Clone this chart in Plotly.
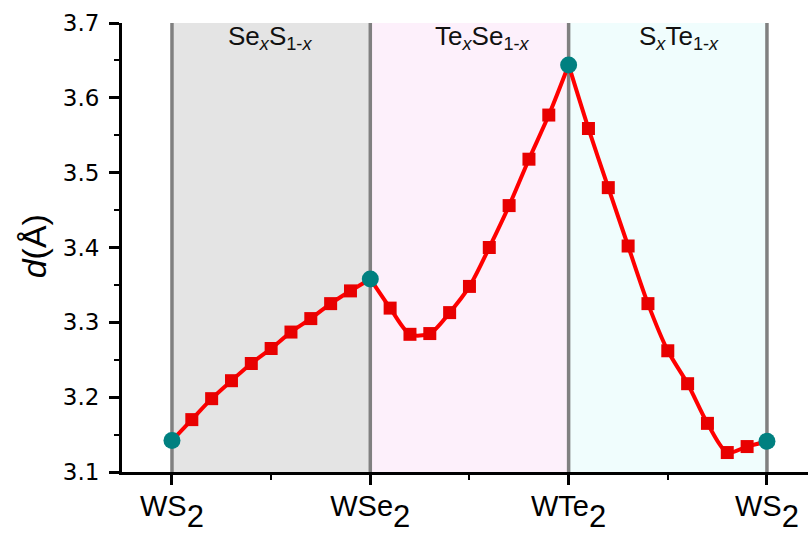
import plotly.graph_objects as go

# End-member compounds along the composition path
end_x = [0, 1, 2, 3]
end_d = [3.142, 3.358, 3.644, 3.141]
end_names = ["WS", "WSe", "WTe", "WS"]

# Alloy compositions inside each segment
frac = [0.1, 0.2, 0.3, 0.4, 0.5, 0.6, 0.7, 0.8, 0.9]
d_se_s = [3.170, 3.198, 3.222, 3.245, 3.265, 3.287, 3.305, 3.325, 3.342]
d_te_se = [3.319, 3.284, 3.285, 3.313, 3.348, 3.400, 3.456, 3.518, 3.577]
d_s_te = [3.559, 3.480, 3.402, 3.325, 3.262, 3.218, 3.165, 3.126, 3.134]
segments = [d_se_s, d_te_se, d_s_te]

region_names = [
    "Se<sub><i>x</i></sub>S<sub>1-<i>x</i></sub>",
    "Te<sub><i>x</i></sub>Se<sub>1-<i>x</i></sub>",
    "S<sub><i>x</i></sub>Te<sub>1-<i>x</i></sub>",
]
region_label_x = [0.494, 1.568, 2.557]
region_colors = ["#e4e4e4", "#fdf0fb", "#f0fdfd"]

FONT = "Liberation Sans, Arial, sans-serif"
RED = "#ff0000"
TEAL = "#008080"

# formula labels with a large, lowered subscript 2
end_labels = [
    n + '<span style="font-size:31px;baseline-shift:-11px">2</span>'
    for n in end_names
]

fig = go.Figure()

for i, seg in enumerate(segments):
    xs = [end_x[i]] + [end_x[i] + f for f in frac] + [end_x[i + 1]]
    ys = [end_d[i]] + seg + [end_d[i + 1]]
    fig.add_trace(go.Scatter(
        x=xs, y=ys, mode="lines",
        line=dict(color=RED, width=4, shape="spline", smoothing=0.8),
        hoverinfo="skip", showlegend=False,
    ))
    fig.add_trace(go.Scatter(
        x=[end_x[i] + f for f in frac], y=seg, mode="markers",
        marker=dict(symbol="square", size=13, color="#e80000"),
        showlegend=False,
    ))

fig.add_trace(go.Scatter(
    x=end_x, y=end_d, mode="markers",
    marker=dict(symbol="circle", size=17, color=TEAL),
    showlegend=False,
))

shapes = []
for i, c in enumerate(region_colors):
    shapes.append(dict(type="rect", xref="x", yref="paper",
                       x0=end_x[i], x1=end_x[i + 1], y0=0, y1=1,
                       fillcolor=c, line=dict(width=0), layer="below"))
for xv in end_x:
    shapes.append(dict(type="line", xref="x", yref="paper",
                       x0=xv, x1=xv, y0=0, y1=1,
                       line=dict(color="#808080", width=3.5), layer="below"))

annotations = []
for name, lx in zip(region_names, region_label_x):
    annotations.append(dict(text=name, x=lx, xref="x", y=1, yref="paper",
                            xanchor="center", yanchor="top", yshift=4,
                            showarrow=False,
                            font=dict(family=FONT, size=26, color="#111111")))
annotations.append(dict(text="<i>d</i>(Å)", x=-0.128, xref="paper", y=0.503,
                        yref="paper", textangle=-90, showarrow=False,
                        xanchor="center", yanchor="middle",
                        font=dict(family=FONT, size=34, color="black")))

fig.update_layout(
    width=808, height=533,
    margin=dict(l=122, r=0, t=23, b=61, autoexpand=False),
    paper_bgcolor="white", plot_bgcolor="white",
    shapes=shapes, annotations=annotations,
    font=dict(family=FONT, color="black"),
)

fig.update_xaxes(
    range=[-0.252, 3.207], automargin=False,
    tickmode="array", tickvals=end_x, ticktext=end_labels,
    tickfont=dict(family=FONT, size=29, color="black"),
    ticks="outside", ticklen=10, tickwidth=3, tickcolor="black",
    ticklabelstandoff=-4,
    minor=dict(tickmode="array", tickvals=[0.5, 1.5, 2.5], ticks="outside",
               ticklen=5, tickwidth=2, tickcolor="black"),
    showline=True, linewidth=3, linecolor="black",
    showgrid=False, zeroline=False,
)
fig.update_yaxes(
    range=[3.1, 3.7], dtick=0.1, tick0=3.1, tickformat=".1f", automargin=False,
    tickfont=dict(family="DejaVu Sans, sans-serif", size=23, color="black"),
    ticks="outside", ticklen=10, tickwidth=3, tickcolor="black",
    ticklabelstandoff=5,
    minor=dict(dtick=0.05, ticks="outside", ticklen=5, tickwidth=2,
               tickcolor="black"),
    showline=True, linewidth=3, linecolor="black",
    showgrid=False, zeroline=False,
)

fig.write_html("out.html")
